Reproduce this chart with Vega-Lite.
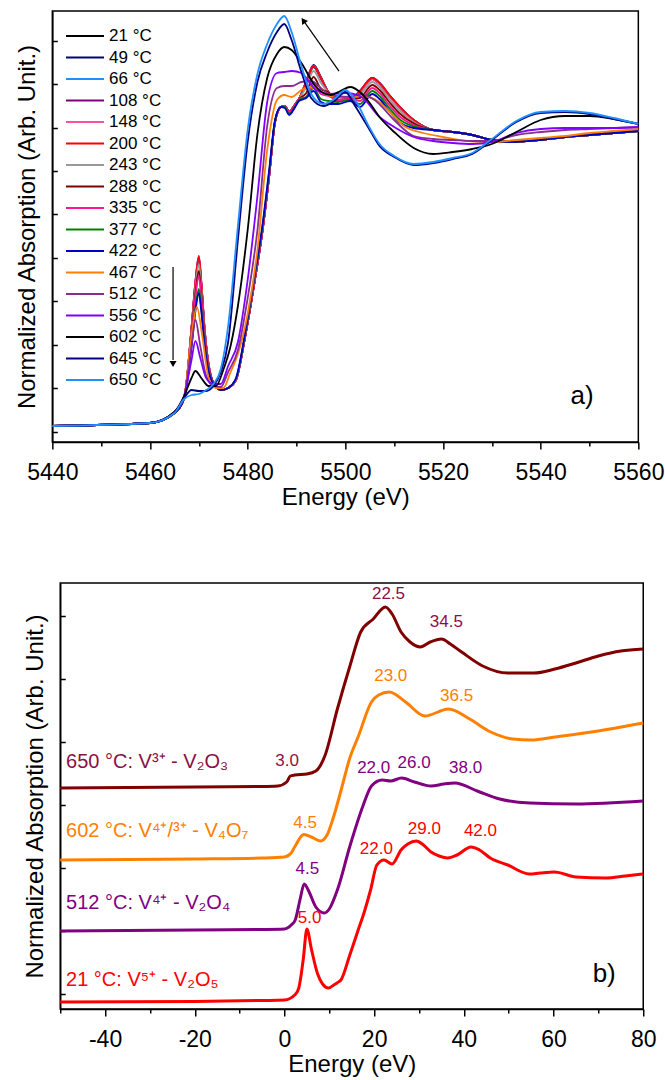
{
"$schema": "https://vega.github.io/schema/vega-lite/v6.json",
"padding": {"left": 14, "top": 10, "right": 5, "bottom": 5},
"spacing": 72,
"center": true,
"bounds": "full",
"config": {
  "font": "Liberation Sans",
  "view": {"stroke": "#000", "strokeWidth": 1.5},
  "axis": {"domainColor": "#000", "domainWidth": 1.5, "tickColor": "#000", "tickWidth": 1.5, "labelColor": "#000", "titleColor": "#000", "labelFontSize": 23, "titleFontSize": 24, "titleFontWeight": "normal", "labelFont": "Liberation Sans", "titleFont": "Liberation Sans", "grid": false},
  "text": {"font": "Liberation Sans"}
},
"datasets": {
"a": [
{"T":"21 °C","E":5440,"A":0},{"T":"21 °C","E":5460,"A":0.015},{"T":"21 °C","E":5465,"A":0.065},{"T":"21 °C","E":5467,"A":0.14},{"T":"21 °C","E":5468.5,"A":0.48},{"T":"21 °C","E":5469.3,"A":0.704},{"T":"21 °C","E":5470,"A":0.825},{"T":"21 °C","E":5470.5,"A":0.704},{"T":"21 °C","E":5471.2,"A":0.471},{"T":"21 °C","E":5472.2,"A":0.277},{"T":"21 °C","E":5473.5,"A":0.195},{"T":"21 °C","E":5474.6,"A":0.18},{"T":"21 °C","E":5476,"A":0.19},{"T":"21 °C","E":5477.6,"A":0.23},{"T":"21 °C","E":5479.5,"A":0.45},{"T":"21 °C","E":5481.4,"A":0.72},{"T":"21 °C","E":5483,"A":0.97},{"T":"21 °C","E":5484.4,"A":1.25},{"T":"21 °C","E":5485.6,"A":1.52},{"T":"21 °C","E":5486.8,"A":1.595},{"T":"21 °C","E":5487.6,"A":1.6},{"T":"21 °C","E":5488.5,"A":1.57},{"T":"21 °C","E":5489.5,"A":1.6},{"T":"21 °C","E":5490.5,"A":1.635},{"T":"21 °C","E":5492,"A":1.715},{"T":"21 °C","E":5493.5,"A":1.795},{"T":"21 °C","E":5495,"A":1.735},{"T":"21 °C","E":5496.5,"A":1.67},{"T":"21 °C","E":5498.5,"A":1.63},{"T":"21 °C","E":5501,"A":1.635},{"T":"21 °C","E":5503,"A":1.67},{"T":"21 °C","E":5505.5,"A":1.735},{"T":"21 °C","E":5507,"A":1.71},{"T":"21 °C","E":5509,"A":1.65},{"T":"21 °C","E":5511,"A":1.595},{"T":"21 °C","E":5514,"A":1.528},{"T":"21 °C","E":5518,"A":1.48},{"T":"21 °C","E":5522,"A":1.47},{"T":"21 °C","E":5526,"A":1.455},{"T":"21 °C","E":5530,"A":1.43},{"T":"21 °C","E":5534,"A":1.42},{"T":"21 °C","E":5540,"A":1.43},{"T":"21 °C","E":5545,"A":1.445},{"T":"21 °C","E":5550,"A":1.455},{"T":"21 °C","E":5555,"A":1.465},{"T":"21 °C","E":5560,"A":1.475},
{"T":"49 °C","E":5440,"A":0},{"T":"49 °C","E":5460,"A":0.015},{"T":"49 °C","E":5465,"A":0.065},{"T":"49 °C","E":5467,"A":0.14},{"T":"49 °C","E":5468.5,"A":0.485},{"T":"49 °C","E":5469.3,"A":0.712},{"T":"49 °C","E":5470,"A":0.835},{"T":"49 °C","E":5470.5,"A":0.712},{"T":"49 °C","E":5471.2,"A":0.476},{"T":"49 °C","E":5472.2,"A":0.279},{"T":"49 °C","E":5473.5,"A":0.195},{"T":"49 °C","E":5474.6,"A":0.18},{"T":"49 °C","E":5476,"A":0.19},{"T":"49 °C","E":5477.6,"A":0.23},{"T":"49 °C","E":5479.5,"A":0.45},{"T":"49 °C","E":5481.4,"A":0.72},{"T":"49 °C","E":5483,"A":0.97},{"T":"49 °C","E":5484.4,"A":1.25},{"T":"49 °C","E":5485.6,"A":1.52},{"T":"49 °C","E":5486.8,"A":1.595},{"T":"49 °C","E":5487.6,"A":1.6},{"T":"49 °C","E":5488.5,"A":1.57},{"T":"49 °C","E":5489.5,"A":1.6},{"T":"49 °C","E":5490.5,"A":1.635},{"T":"49 °C","E":5492,"A":1.725},{"T":"49 °C","E":5493.5,"A":1.805},{"T":"49 °C","E":5495,"A":1.745},{"T":"49 °C","E":5496.5,"A":1.67},{"T":"49 °C","E":5498.5,"A":1.63},{"T":"49 °C","E":5501,"A":1.635},{"T":"49 °C","E":5503,"A":1.675},{"T":"49 °C","E":5505.5,"A":1.74},{"T":"49 °C","E":5507,"A":1.715},{"T":"49 °C","E":5509,"A":1.655},{"T":"49 °C","E":5511,"A":1.6},{"T":"49 °C","E":5514,"A":1.53},{"T":"49 °C","E":5518,"A":1.48},{"T":"49 °C","E":5522,"A":1.47},{"T":"49 °C","E":5526,"A":1.455},{"T":"49 °C","E":5530,"A":1.43},{"T":"49 °C","E":5534,"A":1.42},{"T":"49 °C","E":5540,"A":1.43},{"T":"49 °C","E":5545,"A":1.445},{"T":"49 °C","E":5550,"A":1.455},{"T":"49 °C","E":5555,"A":1.465},{"T":"49 °C","E":5560,"A":1.475},
{"T":"66 °C","E":5440,"A":0},{"T":"66 °C","E":5460,"A":0.015},{"T":"66 °C","E":5465,"A":0.065},{"T":"66 °C","E":5467,"A":0.14},{"T":"66 °C","E":5468.5,"A":0.487},{"T":"66 °C","E":5469.3,"A":0.716},{"T":"66 °C","E":5470,"A":0.84},{"T":"66 °C","E":5470.5,"A":0.716},{"T":"66 °C","E":5471.2,"A":0.478},{"T":"66 °C","E":5472.2,"A":0.279},{"T":"66 °C","E":5473.5,"A":0.195},{"T":"66 °C","E":5474.6,"A":0.18},{"T":"66 °C","E":5476,"A":0.19},{"T":"66 °C","E":5477.6,"A":0.23},{"T":"66 °C","E":5479.5,"A":0.45},{"T":"66 °C","E":5481.4,"A":0.72},{"T":"66 °C","E":5483,"A":0.97},{"T":"66 °C","E":5484.4,"A":1.25},{"T":"66 °C","E":5485.6,"A":1.52},{"T":"66 °C","E":5486.8,"A":1.595},{"T":"66 °C","E":5487.6,"A":1.6},{"T":"66 °C","E":5488.5,"A":1.57},{"T":"66 °C","E":5489.5,"A":1.6},{"T":"66 °C","E":5490.5,"A":1.635},{"T":"66 °C","E":5492,"A":1.72},{"T":"66 °C","E":5493.5,"A":1.8},{"T":"66 °C","E":5495,"A":1.74},{"T":"66 °C","E":5496.5,"A":1.67},{"T":"66 °C","E":5498.5,"A":1.63},{"T":"66 °C","E":5501,"A":1.635},{"T":"66 °C","E":5503,"A":1.675},{"T":"66 °C","E":5505.5,"A":1.74},{"T":"66 °C","E":5507,"A":1.715},{"T":"66 °C","E":5509,"A":1.655},{"T":"66 °C","E":5511,"A":1.6},{"T":"66 °C","E":5514,"A":1.53},{"T":"66 °C","E":5518,"A":1.48},{"T":"66 °C","E":5522,"A":1.47},{"T":"66 °C","E":5526,"A":1.455},{"T":"66 °C","E":5530,"A":1.43},{"T":"66 °C","E":5534,"A":1.42},{"T":"66 °C","E":5540,"A":1.43},{"T":"66 °C","E":5545,"A":1.445},{"T":"66 °C","E":5550,"A":1.455},{"T":"66 °C","E":5555,"A":1.465},{"T":"66 °C","E":5560,"A":1.475},
{"T":"108 °C","E":5440,"A":0},{"T":"108 °C","E":5460,"A":0.015},{"T":"108 °C","E":5465,"A":0.065},{"T":"108 °C","E":5467,"A":0.14},{"T":"108 °C","E":5468.5,"A":0.493},{"T":"108 °C","E":5469.3,"A":0.724},{"T":"108 °C","E":5470,"A":0.85},{"T":"108 °C","E":5470.5,"A":0.724},{"T":"108 °C","E":5471.2,"A":0.482},{"T":"108 °C","E":5472.2,"A":0.281},{"T":"108 °C","E":5473.5,"A":0.195},{"T":"108 °C","E":5474.6,"A":0.18},{"T":"108 °C","E":5476,"A":0.19},{"T":"108 °C","E":5477.6,"A":0.23},{"T":"108 °C","E":5479.5,"A":0.45},{"T":"108 °C","E":5481.4,"A":0.72},{"T":"108 °C","E":5483,"A":0.97},{"T":"108 °C","E":5484.4,"A":1.25},{"T":"108 °C","E":5485.6,"A":1.52},{"T":"108 °C","E":5486.8,"A":1.595},{"T":"108 °C","E":5487.6,"A":1.6},{"T":"108 °C","E":5488.5,"A":1.57},{"T":"108 °C","E":5489.5,"A":1.6},{"T":"108 °C","E":5490.5,"A":1.635},{"T":"108 °C","E":5492,"A":1.72},{"T":"108 °C","E":5493.5,"A":1.8},{"T":"108 °C","E":5495,"A":1.74},{"T":"108 °C","E":5496.5,"A":1.67},{"T":"108 °C","E":5498.5,"A":1.63},{"T":"108 °C","E":5501,"A":1.635},{"T":"108 °C","E":5503,"A":1.675},{"T":"108 °C","E":5505.5,"A":1.74},{"T":"108 °C","E":5507,"A":1.715},{"T":"108 °C","E":5509,"A":1.655},{"T":"108 °C","E":5511,"A":1.6},{"T":"108 °C","E":5514,"A":1.53},{"T":"108 °C","E":5518,"A":1.48},{"T":"108 °C","E":5522,"A":1.47},{"T":"108 °C","E":5526,"A":1.455},{"T":"108 °C","E":5530,"A":1.43},{"T":"108 °C","E":5534,"A":1.42},{"T":"108 °C","E":5540,"A":1.43},{"T":"108 °C","E":5545,"A":1.445},{"T":"108 °C","E":5550,"A":1.455},{"T":"108 °C","E":5555,"A":1.465},{"T":"108 °C","E":5560,"A":1.475},
{"T":"148 °C","E":5440,"A":0},{"T":"148 °C","E":5460,"A":0.015},{"T":"148 °C","E":5465,"A":0.065},{"T":"148 °C","E":5467,"A":0.14},{"T":"148 °C","E":5468.5,"A":0.49},{"T":"148 °C","E":5469.3,"A":0.72},{"T":"148 °C","E":5470,"A":0.845},{"T":"148 °C","E":5470.5,"A":0.72},{"T":"148 °C","E":5471.2,"A":0.48},{"T":"148 °C","E":5472.2,"A":0.28},{"T":"148 °C","E":5473.5,"A":0.195},{"T":"148 °C","E":5474.6,"A":0.18},{"T":"148 °C","E":5476,"A":0.19},{"T":"148 °C","E":5477.6,"A":0.23},{"T":"148 °C","E":5479.5,"A":0.45},{"T":"148 °C","E":5481.4,"A":0.72},{"T":"148 °C","E":5483,"A":0.97},{"T":"148 °C","E":5484.4,"A":1.25},{"T":"148 °C","E":5485.6,"A":1.52},{"T":"148 °C","E":5486.8,"A":1.595},{"T":"148 °C","E":5487.6,"A":1.6},{"T":"148 °C","E":5488.5,"A":1.57},{"T":"148 °C","E":5489.5,"A":1.6},{"T":"148 °C","E":5490.5,"A":1.635},{"T":"148 °C","E":5492,"A":1.72},{"T":"148 °C","E":5493.5,"A":1.8},{"T":"148 °C","E":5495,"A":1.74},{"T":"148 °C","E":5496.5,"A":1.67},{"T":"148 °C","E":5498.5,"A":1.63},{"T":"148 °C","E":5501,"A":1.635},{"T":"148 °C","E":5503,"A":1.67},{"T":"148 °C","E":5505.5,"A":1.735},{"T":"148 °C","E":5507,"A":1.71},{"T":"148 °C","E":5509,"A":1.65},{"T":"148 °C","E":5511,"A":1.595},{"T":"148 °C","E":5514,"A":1.528},{"T":"148 °C","E":5518,"A":1.48},{"T":"148 °C","E":5522,"A":1.47},{"T":"148 °C","E":5526,"A":1.455},{"T":"148 °C","E":5530,"A":1.43},{"T":"148 °C","E":5534,"A":1.42},{"T":"148 °C","E":5540,"A":1.43},{"T":"148 °C","E":5545,"A":1.445},{"T":"148 °C","E":5550,"A":1.455},{"T":"148 °C","E":5555,"A":1.465},{"T":"148 °C","E":5560,"A":1.475},
{"T":"200 °C","E":5440,"A":0},{"T":"200 °C","E":5460,"A":0.015},{"T":"200 °C","E":5465,"A":0.065},{"T":"200 °C","E":5467,"A":0.14},{"T":"200 °C","E":5468.5,"A":0.49},{"T":"200 °C","E":5469.3,"A":0.72},{"T":"200 °C","E":5470,"A":0.845},{"T":"200 °C","E":5470.5,"A":0.72},{"T":"200 °C","E":5471.2,"A":0.48},{"T":"200 °C","E":5472.2,"A":0.28},{"T":"200 °C","E":5473.5,"A":0.195},{"T":"200 °C","E":5474.6,"A":0.18},{"T":"200 °C","E":5476,"A":0.19},{"T":"200 °C","E":5477.6,"A":0.23},{"T":"200 °C","E":5479.5,"A":0.45},{"T":"200 °C","E":5481.4,"A":0.72},{"T":"200 °C","E":5483,"A":0.97},{"T":"200 °C","E":5484.4,"A":1.25},{"T":"200 °C","E":5485.6,"A":1.52},{"T":"200 °C","E":5486.8,"A":1.595},{"T":"200 °C","E":5487.6,"A":1.6},{"T":"200 °C","E":5488.5,"A":1.57},{"T":"200 °C","E":5489.5,"A":1.6},{"T":"200 °C","E":5490.5,"A":1.635},{"T":"200 °C","E":5492,"A":1.72},{"T":"200 °C","E":5493.5,"A":1.8},{"T":"200 °C","E":5495,"A":1.74},{"T":"200 °C","E":5496.5,"A":1.67},{"T":"200 °C","E":5498.5,"A":1.63},{"T":"200 °C","E":5501,"A":1.635},{"T":"200 °C","E":5503,"A":1.675},{"T":"200 °C","E":5505.5,"A":1.74},{"T":"200 °C","E":5507,"A":1.715},{"T":"200 °C","E":5509,"A":1.655},{"T":"200 °C","E":5511,"A":1.6},{"T":"200 °C","E":5514,"A":1.53},{"T":"200 °C","E":5518,"A":1.48},{"T":"200 °C","E":5522,"A":1.47},{"T":"200 °C","E":5526,"A":1.455},{"T":"200 °C","E":5530,"A":1.43},{"T":"200 °C","E":5534,"A":1.42},{"T":"200 °C","E":5540,"A":1.43},{"T":"200 °C","E":5545,"A":1.445},{"T":"200 °C","E":5550,"A":1.455},{"T":"200 °C","E":5555,"A":1.465},{"T":"200 °C","E":5560,"A":1.475},
{"T":"243 °C","E":5440,"A":0},{"T":"243 °C","E":5460,"A":0.015},{"T":"243 °C","E":5465,"A":0.065},{"T":"243 °C","E":5467,"A":0.14},{"T":"243 °C","E":5468.5,"A":0.471},{"T":"243 °C","E":5469.3,"A":0.691},{"T":"243 °C","E":5470,"A":0.81},{"T":"243 °C","E":5470.5,"A":0.691},{"T":"243 °C","E":5471.2,"A":0.464},{"T":"243 °C","E":5472.2,"A":0.275},{"T":"243 °C","E":5473.5,"A":0.195},{"T":"243 °C","E":5474.6,"A":0.18},{"T":"243 °C","E":5476,"A":0.19},{"T":"243 °C","E":5477.6,"A":0.23},{"T":"243 °C","E":5479.5,"A":0.45},{"T":"243 °C","E":5481.4,"A":0.72},{"T":"243 °C","E":5483,"A":0.97},{"T":"243 °C","E":5484.4,"A":1.25},{"T":"243 °C","E":5485.6,"A":1.52},{"T":"243 °C","E":5486.8,"A":1.595},{"T":"243 °C","E":5487.6,"A":1.6},{"T":"243 °C","E":5488.5,"A":1.57},{"T":"243 °C","E":5489.5,"A":1.6},{"T":"243 °C","E":5490.5,"A":1.635},{"T":"243 °C","E":5492,"A":1.695},{"T":"243 °C","E":5493.5,"A":1.775},{"T":"243 °C","E":5495,"A":1.715},{"T":"243 °C","E":5496.5,"A":1.67},{"T":"243 °C","E":5498.5,"A":1.63},{"T":"243 °C","E":5501,"A":1.635},{"T":"243 °C","E":5503,"A":1.655},{"T":"243 °C","E":5505.5,"A":1.72},{"T":"243 °C","E":5507,"A":1.695},{"T":"243 °C","E":5509,"A":1.635},{"T":"243 °C","E":5511,"A":1.58},{"T":"243 °C","E":5514,"A":1.52},{"T":"243 °C","E":5518,"A":1.48},{"T":"243 °C","E":5522,"A":1.47},{"T":"243 °C","E":5526,"A":1.455},{"T":"243 °C","E":5530,"A":1.43},{"T":"243 °C","E":5534,"A":1.42},{"T":"243 °C","E":5540,"A":1.43},{"T":"243 °C","E":5545,"A":1.445},{"T":"243 °C","E":5550,"A":1.455},{"T":"243 °C","E":5555,"A":1.465},{"T":"243 °C","E":5560,"A":1.475},
{"T":"288 °C","E":5440,"A":0},{"T":"288 °C","E":5460,"A":0.015},{"T":"288 °C","E":5465,"A":0.065},{"T":"288 °C","E":5467,"A":0.14},{"T":"288 °C","E":5468.5,"A":0.453},{"T":"288 °C","E":5469.3,"A":0.663},{"T":"288 °C","E":5470,"A":0.775},{"T":"288 °C","E":5470.5,"A":0.663},{"T":"288 °C","E":5471.2,"A":0.449},{"T":"288 °C","E":5472.2,"A":0.27},{"T":"288 °C","E":5473.5,"A":0.195},{"T":"288 °C","E":5474.6,"A":0.18},{"T":"288 °C","E":5476,"A":0.19},{"T":"288 °C","E":5477.6,"A":0.23},{"T":"288 °C","E":5479.5,"A":0.45},{"T":"288 °C","E":5481.4,"A":0.72},{"T":"288 °C","E":5483,"A":0.97},{"T":"288 °C","E":5484.4,"A":1.25},{"T":"288 °C","E":5485.6,"A":1.52},{"T":"288 °C","E":5486.8,"A":1.595},{"T":"288 °C","E":5487.6,"A":1.6},{"T":"288 °C","E":5488.5,"A":1.57},{"T":"288 °C","E":5489.5,"A":1.6},{"T":"288 °C","E":5490.5,"A":1.635},{"T":"288 °C","E":5492,"A":1.665},{"T":"288 °C","E":5493.5,"A":1.745},{"T":"288 °C","E":5495,"A":1.685},{"T":"288 °C","E":5496.5,"A":1.67},{"T":"288 °C","E":5498.5,"A":1.63},{"T":"288 °C","E":5501,"A":1.635},{"T":"288 °C","E":5503,"A":1.64},{"T":"288 °C","E":5505.5,"A":1.705},{"T":"288 °C","E":5507,"A":1.68},{"T":"288 °C","E":5509,"A":1.62},{"T":"288 °C","E":5511,"A":1.565},{"T":"288 °C","E":5514,"A":1.513},{"T":"288 °C","E":5518,"A":1.48},{"T":"288 °C","E":5522,"A":1.47},{"T":"288 °C","E":5526,"A":1.455},{"T":"288 °C","E":5530,"A":1.43},{"T":"288 °C","E":5534,"A":1.42},{"T":"288 °C","E":5540,"A":1.43},{"T":"288 °C","E":5545,"A":1.445},{"T":"288 °C","E":5550,"A":1.455},{"T":"288 °C","E":5555,"A":1.465},{"T":"288 °C","E":5560,"A":1.475},
{"T":"335 °C","E":5440,"A":0},{"T":"335 °C","E":5460,"A":0.015},{"T":"335 °C","E":5465,"A":0.065},{"T":"335 °C","E":5467,"A":0.14},{"T":"335 °C","E":5468.5,"A":0.44},{"T":"335 °C","E":5469.3,"A":0.643},{"T":"335 °C","E":5470,"A":0.75},{"T":"335 °C","E":5470.5,"A":0.643},{"T":"335 °C","E":5471.2,"A":0.437},{"T":"335 °C","E":5472.2,"A":0.266},{"T":"335 °C","E":5473.5,"A":0.195},{"T":"335 °C","E":5474.6,"A":0.18},{"T":"335 °C","E":5476,"A":0.19},{"T":"335 °C","E":5477.6,"A":0.23},{"T":"335 °C","E":5479.5,"A":0.45},{"T":"335 °C","E":5481.4,"A":0.72},{"T":"335 °C","E":5483,"A":0.97},{"T":"335 °C","E":5484.4,"A":1.25},{"T":"335 °C","E":5485.6,"A":1.52},{"T":"335 °C","E":5486.8,"A":1.595},{"T":"335 °C","E":5487.6,"A":1.6},{"T":"335 °C","E":5488.5,"A":1.57},{"T":"335 °C","E":5489.5,"A":1.6},{"T":"335 °C","E":5490.5,"A":1.635},{"T":"335 °C","E":5492,"A":1.645},{"T":"335 °C","E":5493.5,"A":1.72},{"T":"335 °C","E":5495,"A":1.66},{"T":"335 °C","E":5496.5,"A":1.65},{"T":"335 °C","E":5498.5,"A":1.63},{"T":"335 °C","E":5501,"A":1.635},{"T":"335 °C","E":5503,"A":1.625},{"T":"335 °C","E":5505.5,"A":1.69},{"T":"335 °C","E":5507,"A":1.665},{"T":"335 °C","E":5509,"A":1.605},{"T":"335 °C","E":5511,"A":1.55},{"T":"335 °C","E":5514,"A":1.505},{"T":"335 °C","E":5518,"A":1.48},{"T":"335 °C","E":5522,"A":1.47},{"T":"335 °C","E":5526,"A":1.455},{"T":"335 °C","E":5530,"A":1.43},{"T":"335 °C","E":5534,"A":1.42},{"T":"335 °C","E":5540,"A":1.43},{"T":"335 °C","E":5545,"A":1.445},{"T":"335 °C","E":5550,"A":1.455},{"T":"335 °C","E":5555,"A":1.465},{"T":"335 °C","E":5560,"A":1.475},
{"T":"377 °C","E":5440,"A":0},{"T":"377 °C","E":5460,"A":0.015},{"T":"377 °C","E":5465,"A":0.065},{"T":"377 °C","E":5467,"A":0.14},{"T":"377 °C","E":5468.5,"A":0.406},{"T":"377 °C","E":5469.3,"A":0.59},{"T":"377 °C","E":5470,"A":0.685},{"T":"377 °C","E":5470.5,"A":0.59},{"T":"377 °C","E":5471.2,"A":0.408},{"T":"377 °C","E":5472.2,"A":0.256},{"T":"377 °C","E":5473.5,"A":0.195},{"T":"377 °C","E":5474.6,"A":0.18},{"T":"377 °C","E":5476,"A":0.19},{"T":"377 °C","E":5477.6,"A":0.235},{"T":"377 °C","E":5479.5,"A":0.46},{"T":"377 °C","E":5481.4,"A":0.74},{"T":"377 °C","E":5483,"A":0.99},{"T":"377 °C","E":5484.4,"A":1.27},{"T":"377 °C","E":5485.6,"A":1.525},{"T":"377 °C","E":5486.8,"A":1.595},{"T":"377 °C","E":5487.6,"A":1.595},{"T":"377 °C","E":5488.5,"A":1.56},{"T":"377 °C","E":5489.5,"A":1.59},{"T":"377 °C","E":5490.5,"A":1.63},{"T":"377 °C","E":5492,"A":1.645},{"T":"377 °C","E":5493.5,"A":1.69},{"T":"377 °C","E":5495,"A":1.635},{"T":"377 °C","E":5496.5,"A":1.625},{"T":"377 °C","E":5498.5,"A":1.62},{"T":"377 °C","E":5501,"A":1.63},{"T":"377 °C","E":5503,"A":1.61},{"T":"377 °C","E":5505.5,"A":1.675},{"T":"377 °C","E":5507,"A":1.65},{"T":"377 °C","E":5509,"A":1.59},{"T":"377 °C","E":5511,"A":1.535},{"T":"377 °C","E":5514,"A":1.498},{"T":"377 °C","E":5518,"A":1.48},{"T":"377 °C","E":5522,"A":1.47},{"T":"377 °C","E":5526,"A":1.455},{"T":"377 °C","E":5530,"A":1.43},{"T":"377 °C","E":5534,"A":1.42},{"T":"377 °C","E":5540,"A":1.43},{"T":"377 °C","E":5545,"A":1.445},{"T":"377 °C","E":5550,"A":1.455},{"T":"377 °C","E":5555,"A":1.465},{"T":"377 °C","E":5560,"A":1.475},
{"T":"422 °C","E":5440,"A":0},{"T":"422 °C","E":5460,"A":0.015},{"T":"422 °C","E":5465,"A":0.065},{"T":"422 °C","E":5467,"A":0.14},{"T":"422 °C","E":5468.5,"A":0.395},{"T":"422 °C","E":5469.3,"A":0.574},{"T":"422 °C","E":5470,"A":0.665},{"T":"422 °C","E":5470.5,"A":0.574},{"T":"422 °C","E":5471.2,"A":0.399},{"T":"422 °C","E":5472.2,"A":0.253},{"T":"422 °C","E":5473.5,"A":0.195},{"T":"422 °C","E":5474.6,"A":0.18},{"T":"422 °C","E":5476,"A":0.19},{"T":"422 °C","E":5477.6,"A":0.24},{"T":"422 °C","E":5479.5,"A":0.47},{"T":"422 °C","E":5481.4,"A":0.75},{"T":"422 °C","E":5483,"A":1.0},{"T":"422 °C","E":5484.4,"A":1.28},{"T":"422 °C","E":5485.6,"A":1.53},{"T":"422 °C","E":5486.8,"A":1.595},{"T":"422 °C","E":5487.6,"A":1.59},{"T":"422 °C","E":5488.5,"A":1.555},{"T":"422 °C","E":5489.5,"A":1.585},{"T":"422 °C","E":5490.5,"A":1.625},{"T":"422 °C","E":5492,"A":1.64},{"T":"422 °C","E":5493.5,"A":1.675},{"T":"422 °C","E":5495,"A":1.62},{"T":"422 °C","E":5496.5,"A":1.61},{"T":"422 °C","E":5498.5,"A":1.61},{"T":"422 °C","E":5501,"A":1.625},{"T":"422 °C","E":5503,"A":1.595},{"T":"422 °C","E":5505.5,"A":1.66},{"T":"422 °C","E":5507,"A":1.635},{"T":"422 °C","E":5509,"A":1.575},{"T":"422 °C","E":5511,"A":1.52},{"T":"422 °C","E":5514,"A":1.49},{"T":"422 °C","E":5518,"A":1.48},{"T":"422 °C","E":5522,"A":1.47},{"T":"422 °C","E":5526,"A":1.455},{"T":"422 °C","E":5530,"A":1.43},{"T":"422 °C","E":5534,"A":1.42},{"T":"422 °C","E":5540,"A":1.43},{"T":"422 °C","E":5545,"A":1.445},{"T":"422 °C","E":5550,"A":1.455},{"T":"422 °C","E":5555,"A":1.465},{"T":"422 °C","E":5560,"A":1.475},
{"T":"467 °C","E":5440,"A":0},{"T":"467 °C","E":5460,"A":0.015},{"T":"467 °C","E":5465,"A":0.07},{"T":"467 °C","E":5467,"A":0.15},{"T":"467 °C","E":5468.5,"A":0.45},{"T":"467 °C","E":5469.6,"A":0.595},{"T":"467 °C","E":5470.7,"A":0.45},{"T":"467 °C","E":5472,"A":0.24},{"T":"467 °C","E":5473.5,"A":0.19},{"T":"467 °C","E":5475,"A":0.19},{"T":"467 °C","E":5476.5,"A":0.27},{"T":"467 °C","E":5478,"A":0.36},{"T":"467 °C","E":5480,"A":0.56},{"T":"467 °C","E":5482,"A":0.88},{"T":"467 °C","E":5484,"A":1.38},{"T":"467 °C","E":5486,"A":1.63},{"T":"467 °C","E":5487.5,"A":1.655},{"T":"467 °C","E":5489,"A":1.645},{"T":"467 °C","E":5491,"A":1.68},{"T":"467 °C","E":5492.5,"A":1.695},{"T":"467 °C","E":5494,"A":1.685},{"T":"467 °C","E":5497,"A":1.65},{"T":"467 °C","E":5500,"A":1.645},{"T":"467 °C","E":5503,"A":1.65},{"T":"467 °C","E":5506,"A":1.635},{"T":"467 °C","E":5508.5,"A":1.585},{"T":"467 °C","E":5512,"A":1.5},{"T":"467 °C","E":5516,"A":1.465},{"T":"467 °C","E":5520,"A":1.445},{"T":"467 °C","E":5525,"A":1.425},{"T":"467 °C","E":5530,"A":1.42},{"T":"467 °C","E":5535,"A":1.43},{"T":"467 °C","E":5540,"A":1.44},{"T":"467 °C","E":5545,"A":1.45},{"T":"467 °C","E":5550,"A":1.465},{"T":"467 °C","E":5555,"A":1.475},{"T":"467 °C","E":5560,"A":1.485},
{"T":"512 °C","E":5440,"A":0},{"T":"512 °C","E":5460,"A":0.015},{"T":"512 °C","E":5465,"A":0.07},{"T":"512 °C","E":5467,"A":0.15},{"T":"512 °C","E":5468.5,"A":0.4},{"T":"512 °C","E":5469.3,"A":0.53},{"T":"512 °C","E":5470.3,"A":0.4},{"T":"512 °C","E":5471.5,"A":0.25},{"T":"512 °C","E":5473,"A":0.2},{"T":"512 °C","E":5474.5,"A":0.195},{"T":"512 °C","E":5476,"A":0.27},{"T":"512 °C","E":5478,"A":0.38},{"T":"512 °C","E":5480,"A":0.64},{"T":"512 °C","E":5482,"A":0.98},{"T":"512 °C","E":5484,"A":1.5},{"T":"512 °C","E":5486,"A":1.69},{"T":"512 °C","E":5487.5,"A":1.7},{"T":"512 °C","E":5489,"A":1.7},{"T":"512 °C","E":5491,"A":1.72},{"T":"512 °C","E":5493,"A":1.725},{"T":"512 °C","E":5494.5,"A":1.7},{"T":"512 °C","E":5496,"A":1.67},{"T":"512 °C","E":5498,"A":1.65},{"T":"512 °C","E":5501,"A":1.645},{"T":"512 °C","E":5503,"A":1.66},{"T":"512 °C","E":5506,"A":1.63},{"T":"512 °C","E":5510,"A":1.53},{"T":"512 °C","E":5514,"A":1.45},{"T":"512 °C","E":5518,"A":1.435},{"T":"512 °C","E":5522,"A":1.43},{"T":"512 °C","E":5526,"A":1.425},{"T":"512 °C","E":5530,"A":1.425},{"T":"512 °C","E":5535,"A":1.455},{"T":"512 °C","E":5540,"A":1.47},{"T":"512 °C","E":5545,"A":1.48},{"T":"512 °C","E":5550,"A":1.485},{"T":"512 °C","E":5555,"A":1.49},{"T":"512 °C","E":5560,"A":1.495},
{"T":"556 °C","E":5440,"A":0},{"T":"556 °C","E":5460,"A":0.015},{"T":"556 °C","E":5465,"A":0.07},{"T":"556 °C","E":5467,"A":0.15},{"T":"556 °C","E":5468.5,"A":0.33},{"T":"556 °C","E":5469.3,"A":0.425},{"T":"556 °C","E":5470.3,"A":0.34},{"T":"556 °C","E":5471.5,"A":0.24},{"T":"556 °C","E":5473,"A":0.21},{"T":"556 °C","E":5474.5,"A":0.21},{"T":"556 °C","E":5476,"A":0.3},{"T":"556 °C","E":5478,"A":0.42},{"T":"556 °C","E":5480,"A":0.73},{"T":"556 °C","E":5482,"A":1.15},{"T":"556 °C","E":5484,"A":1.62},{"T":"556 °C","E":5486,"A":1.765},{"T":"556 °C","E":5487.5,"A":1.77},{"T":"556 °C","E":5489,"A":1.775},{"T":"556 °C","E":5491,"A":1.765},{"T":"556 °C","E":5492.5,"A":1.725},{"T":"556 °C","E":5494,"A":1.68},{"T":"556 °C","E":5497,"A":1.66},{"T":"556 °C","E":5500,"A":1.665},{"T":"556 °C","E":5503,"A":1.65},{"T":"556 °C","E":5507,"A":1.545},{"T":"556 °C","E":5510,"A":1.495},{"T":"556 °C","E":5514,"A":1.445},{"T":"556 °C","E":5518,"A":1.425},{"T":"556 °C","E":5522,"A":1.415},{"T":"556 °C","E":5526,"A":1.41},{"T":"556 °C","E":5530,"A":1.42},{"T":"556 °C","E":5535,"A":1.465},{"T":"556 °C","E":5540,"A":1.485},{"T":"556 °C","E":5545,"A":1.49},{"T":"556 °C","E":5550,"A":1.49},{"T":"556 °C","E":5555,"A":1.49},{"T":"556 °C","E":5560,"A":1.495},
{"T":"602 °C","E":5440,"A":0},{"T":"602 °C","E":5460,"A":0.015},{"T":"602 °C","E":5465,"A":0.07},{"T":"602 °C","E":5467,"A":0.15},{"T":"602 °C","E":5468.5,"A":0.24},{"T":"602 °C","E":5469.3,"A":0.275},{"T":"602 °C","E":5470.5,"A":0.24},{"T":"602 °C","E":5472,"A":0.2},{"T":"602 °C","E":5473.5,"A":0.2},{"T":"602 °C","E":5475,"A":0.28},{"T":"602 °C","E":5476.5,"A":0.4},{"T":"602 °C","E":5478,"A":0.6},{"T":"602 °C","E":5480,"A":0.98},{"T":"602 °C","E":5482,"A":1.46},{"T":"602 °C","E":5484,"A":1.74},{"T":"602 °C","E":5486,"A":1.86},{"T":"602 °C","E":5487.5,"A":1.895},{"T":"602 °C","E":5489,"A":1.88},{"T":"602 °C","E":5491,"A":1.815},{"T":"602 °C","E":5494,"A":1.695},{"T":"602 °C","E":5497,"A":1.655},{"T":"602 °C","E":5499,"A":1.675},{"T":"602 °C","E":5501,"A":1.695},{"T":"602 °C","E":5503,"A":1.67},{"T":"602 °C","E":5505,"A":1.615},{"T":"602 °C","E":5507,"A":1.545},{"T":"602 °C","E":5510,"A":1.47},{"T":"602 °C","E":5514,"A":1.39},{"T":"602 °C","E":5518,"A":1.36},{"T":"602 °C","E":5522,"A":1.37},{"T":"602 °C","E":5526,"A":1.385},{"T":"602 °C","E":5530,"A":1.41},{"T":"602 °C","E":5535,"A":1.47},{"T":"602 °C","E":5540,"A":1.53},{"T":"602 °C","E":5545,"A":1.55},{"T":"602 °C","E":5550,"A":1.55},{"T":"602 °C","E":5555,"A":1.535},{"T":"602 °C","E":5560,"A":1.51},
{"T":"645 °C","E":5440,"A":0},{"T":"645 °C","E":5460,"A":0.015},{"T":"645 °C","E":5465,"A":0.065},{"T":"645 °C","E":5467,"A":0.14},{"T":"645 °C","E":5468.5,"A":0.18},{"T":"645 °C","E":5470,"A":0.175},{"T":"645 °C","E":5471.5,"A":0.175},{"T":"645 °C","E":5473,"A":0.2},{"T":"645 °C","E":5474.5,"A":0.27},{"T":"645 °C","E":5476,"A":0.42},{"T":"645 °C","E":5478,"A":0.93},{"T":"645 °C","E":5480,"A":1.42},{"T":"645 °C","E":5482,"A":1.72},{"T":"645 °C","E":5484,"A":1.87},{"T":"645 °C","E":5486,"A":1.97},{"T":"645 °C","E":5487.5,"A":2.01},{"T":"645 °C","E":5489,"A":1.93},{"T":"645 °C","E":5491,"A":1.77},{"T":"645 °C","E":5493,"A":1.64},{"T":"645 °C","E":5495.5,"A":1.6},{"T":"645 °C","E":5498,"A":1.63},{"T":"645 °C","E":5500,"A":1.67},{"T":"645 °C","E":5502,"A":1.6},{"T":"645 °C","E":5505,"A":1.48},{"T":"645 °C","E":5507,"A":1.4},{"T":"645 °C","E":5510,"A":1.345},{"T":"645 °C","E":5514,"A":1.305},{"T":"645 °C","E":5518,"A":1.315},{"T":"645 °C","E":5522,"A":1.335},{"T":"645 °C","E":5526,"A":1.36},{"T":"645 °C","E":5530,"A":1.43},{"T":"645 °C","E":5535,"A":1.52},{"T":"645 °C","E":5540,"A":1.565},{"T":"645 °C","E":5545,"A":1.57},{"T":"645 °C","E":5550,"A":1.56},{"T":"645 °C","E":5555,"A":1.535},{"T":"645 °C","E":5560,"A":1.51},
{"T":"650 °C","E":5440,"A":0},{"T":"650 °C","E":5460,"A":0.015},{"T":"650 °C","E":5465,"A":0.065},{"T":"650 °C","E":5467,"A":0.135},{"T":"650 °C","E":5468.5,"A":0.155},{"T":"650 °C","E":5470,"A":0.16},{"T":"650 °C","E":5471.5,"A":0.18},{"T":"650 °C","E":5473,"A":0.21},{"T":"650 °C","E":5474.5,"A":0.285},{"T":"650 °C","E":5476,"A":0.5},{"T":"650 °C","E":5478,"A":1.0},{"T":"650 °C","E":5480,"A":1.48},{"T":"650 °C","E":5482,"A":1.76},{"T":"650 °C","E":5484,"A":1.91},{"T":"650 °C","E":5486,"A":2.01},{"T":"650 °C","E":5487.5,"A":2.05},{"T":"650 °C","E":5489,"A":1.97},{"T":"650 °C","E":5491,"A":1.8},{"T":"650 °C","E":5493,"A":1.66},{"T":"650 °C","E":5495.5,"A":1.61},{"T":"650 °C","E":5498,"A":1.64},{"T":"650 °C","E":5500,"A":1.68},{"T":"650 °C","E":5502,"A":1.63},{"T":"650 °C","E":5505,"A":1.49},{"T":"650 °C","E":5507,"A":1.41},{"T":"650 °C","E":5510,"A":1.35},{"T":"650 °C","E":5514,"A":1.31},{"T":"650 °C","E":5518,"A":1.32},{"T":"650 °C","E":5522,"A":1.34},{"T":"650 °C","E":5526,"A":1.365},{"T":"650 °C","E":5530,"A":1.435},{"T":"650 °C","E":5535,"A":1.525},{"T":"650 °C","E":5540,"A":1.57},{"T":"650 °C","E":5545,"A":1.575},{"T":"650 °C","E":5550,"A":1.565},{"T":"650 °C","E":5555,"A":1.54},{"T":"650 °C","E":5560,"A":1.51}
],
"b": [
{"S":"21 °C","e":-50,"v":-0.02},{"S":"21 °C","e":-20,"v":-0.015},{"S":"21 °C","e":-5,"v":-0.005},{"S":"21 °C","e":0,"v":0},{"S":"21 °C","e":2.4,"v":0.055},{"S":"21 °C","e":3.2,"v":0.12},{"S":"21 °C","e":4.2,"v":0.41},{"S":"21 °C","e":5,"v":0.71},{"S":"21 °C","e":6,"v":0.51},{"S":"21 °C","e":7.4,"v":0.26},{"S":"21 °C","e":8.5,"v":0.16},{"S":"21 °C","e":9.8,"v":0.12},{"S":"21 °C","e":11,"v":0.15},{"S":"21 °C","e":11.8,"v":0.173},{"S":"21 °C","e":12.6,"v":0.2},{"S":"21 °C","e":14.5,"v":0.44},{"S":"21 °C","e":16.4,"v":0.695},{"S":"21 °C","e":17.8,"v":0.88},{"S":"21 °C","e":19.2,"v":1.1},{"S":"21 °C","e":20.6,"v":1.35},{"S":"21 °C","e":22.2,"v":1.4},{"S":"21 °C","e":24,"v":1.36},{"S":"21 °C","e":26,"v":1.5},{"S":"21 °C","e":27.5,"v":1.56},{"S":"21 °C","e":29.4,"v":1.59},{"S":"21 °C","e":31,"v":1.55},{"S":"21 °C","e":32.7,"v":1.48},{"S":"21 °C","e":34.5,"v":1.44},{"S":"21 °C","e":36.4,"v":1.42},{"S":"21 °C","e":38.5,"v":1.45},{"S":"21 °C","e":41.6,"v":1.53},{"S":"21 °C","e":43.5,"v":1.5},{"S":"21 °C","e":45.9,"v":1.42},{"S":"21 °C","e":49.8,"v":1.35},{"S":"21 °C","e":54.6,"v":1.26},{"S":"21 °C","e":57,"v":1.27},{"S":"21 °C","e":60.2,"v":1.28},{"S":"21 °C","e":65,"v":1.23},{"S":"21 °C","e":71.7,"v":1.22},{"S":"21 °C","e":76,"v":1.24},{"S":"21 °C","e":80,"v":1.26},
{"S":"512 °C","e":-50,"v":0.69},{"S":"512 °C","e":-20,"v":0.7},{"S":"512 °C","e":-5,"v":0.705},{"S":"512 °C","e":0,"v":0.71},{"S":"512 °C","e":1.5,"v":0.75},{"S":"512 °C","e":2.4,"v":0.8},{"S":"512 °C","e":3.5,"v":1.01},{"S":"512 °C","e":4.4,"v":1.16},{"S":"512 °C","e":5.5,"v":1.08},{"S":"512 °C","e":7,"v":0.93},{"S":"512 °C","e":8.9,"v":0.87},{"S":"512 °C","e":10,"v":0.91},{"S":"512 °C","e":11.8,"v":1.1},{"S":"512 °C","e":14.6,"v":1.54},{"S":"512 °C","e":17.5,"v":1.94},{"S":"512 °C","e":19.4,"v":2.14},{"S":"512 °C","e":21.8,"v":2.2},{"S":"512 °C","e":23.7,"v":2.19},{"S":"512 °C","e":26.1,"v":2.22},{"S":"512 °C","e":29,"v":2.18},{"S":"512 °C","e":32.7,"v":2.14},{"S":"512 °C","e":35.5,"v":2.16},{"S":"512 °C","e":38,"v":2.17},{"S":"512 °C","e":43,"v":2.09},{"S":"512 °C","e":48,"v":2.01},{"S":"512 °C","e":54.7,"v":1.97},{"S":"512 °C","e":65,"v":1.96},{"S":"512 °C","e":80,"v":1.99},
{"S":"602 °C","e":-50,"v":1.4},{"S":"602 °C","e":-20,"v":1.41},{"S":"602 °C","e":-5,"v":1.42},{"S":"602 °C","e":0,"v":1.43},{"S":"602 °C","e":1.5,"v":1.47},{"S":"602 °C","e":2.4,"v":1.54},{"S":"602 °C","e":4.3,"v":1.655},{"S":"602 °C","e":6,"v":1.63},{"S":"602 °C","e":8,"v":1.59},{"S":"602 °C","e":9.5,"v":1.65},{"S":"602 °C","e":10.8,"v":1.81},{"S":"602 °C","e":12.7,"v":2.11},{"S":"602 °C","e":14.5,"v":2.41},{"S":"602 °C","e":16.5,"v":2.64},{"S":"602 °C","e":19.4,"v":2.98},{"S":"602 °C","e":21,"v":3.05},{"S":"602 °C","e":23.4,"v":3.08},{"S":"602 °C","e":27,"v":2.98},{"S":"602 °C","e":31.3,"v":2.84},{"S":"602 °C","e":36.6,"v":2.91},{"S":"602 °C","e":41.3,"v":2.81},{"S":"602 °C","e":46,"v":2.68},{"S":"602 °C","e":50.9,"v":2.61},{"S":"602 °C","e":55,"v":2.6},{"S":"602 °C","e":60.3,"v":2.63},{"S":"602 °C","e":70,"v":2.69},{"S":"602 °C","e":80,"v":2.77},
{"S":"650 °C","e":-50,"v":2.12},{"S":"650 °C","e":-20,"v":2.13},{"S":"650 °C","e":-5,"v":2.135},{"S":"650 °C","e":-1.5,"v":2.14},{"S":"650 °C","e":0.5,"v":2.18},{"S":"650 °C","e":1.3,"v":2.24},{"S":"650 °C","e":2.3,"v":2.25},{"S":"650 °C","e":5,"v":2.26},{"S":"650 °C","e":7,"v":2.29},{"S":"650 °C","e":9,"v":2.44},{"S":"650 °C","e":11.8,"v":2.91},{"S":"650 °C","e":14.6,"v":3.34},{"S":"650 °C","e":17,"v":3.68},{"S":"650 °C","e":19.8,"v":3.81},{"S":"650 °C","e":22.5,"v":3.93},{"S":"650 °C","e":24,"v":3.86},{"S":"650 °C","e":26,"v":3.68},{"S":"650 °C","e":28,"v":3.58},{"S":"650 °C","e":30.3,"v":3.53},{"S":"650 °C","e":32.5,"v":3.58},{"S":"650 °C","e":35,"v":3.61},{"S":"650 °C","e":37,"v":3.56},{"S":"650 °C","e":39.5,"v":3.48},{"S":"650 °C","e":44.2,"v":3.34},{"S":"650 °C","e":49.8,"v":3.27},{"S":"650 °C","e":55.6,"v":3.27},{"S":"650 °C","e":60.3,"v":3.31},{"S":"650 °C","e":65,"v":3.37},{"S":"650 °C","e":70,"v":3.44},{"S":"650 °C","e":75,"v":3.49},{"S":"650 °C","e":80,"v":3.51}
],
"bnum": [
{"t":"22.5","e":23.2,"v":4.06,"c":"650"},{"t":"34.5","e":36.1,"v":3.78,"c":"650"},{"t":"3.0","e":0.6,"v":2.39,"c":"650"},
{"t":"23.0","e":23.7,"v":3.24,"c":"602"},{"t":"36.5","e":38.4,"v":3.04,"c":"602"},{"t":"4.5","e":4.6,"v":1.77,"c":"602"},
{"t":"22.0","e":19.9,"v":2.32,"c":"512"},{"t":"26.0","e":28.9,"v":2.37,"c":"512"},{"t":"38.0","e":40.4,"v":2.32,"c":"512"},{"t":"4.5","e":5.1,"v":1.31,"c":"512"},
{"t":"22.0","e":20.5,"v":1.51,"c":"21"},{"t":"29.0","e":31.2,"v":1.71,"c":"21"},{"t":"42.0","e":43.7,"v":1.69,"c":"21"},{"t":"5.0","e":5.6,"v":0.82,"c":"21"}
],
"blab": [
{"t":"650 °C: V³⁺ - V₂O₃","e":-48.7,"v":2.38,"c":"650"},
{"t":"602 °C: V⁴⁺/³⁺ - V₄O₇","e":-48.7,"v":1.69,"c":"602"},
{"t":"512 °C: V⁴⁺ - V₂O₄","e":-48.7,"v":0.97,"c":"512"},
{"t":"21 °C: V⁵⁺ - V₂O₅","e":-48.7,"v":0.2,"c":"21"}
]
},
"vconcat": [
{
"width": 586, "height": 431,
"layer": [
{
"data": {"name": "a"},
"mark": {"type": "line", "strokeWidth": 1.8, "interpolate": "monotone"},
"encoding": {
  "x": {"field": "E", "type": "quantitative", "scale": {"domain": [5440, 5560], "nice": false, "zero": false},
    "axis": {"title": "Energy (eV)", "values": [5440,5450,5460,5470,5480,5490,5500,5510,5520,5530,5540,5550,5560], "labelExpr": "datum.value % 20 === 0 ? '' + datum.value : ''", "tickSize": {"condition": {"test": "datum.value % 20 === 0", "value": 7}, "value": 4}, "labelFlush": false, "labelOverlap": false, "labelPadding": 12, "titlePadding": 1}},
  "y": {"field": "A", "type": "quantitative", "scale": {"domain": [-0.08, 2.075], "nice": false, "zero": false},
    "axis": {"title": "Normalized Absorption (Arb. Unit.)", "labels": false, "values": [2.034,1.926,1.817,1.709,1.6,1.492,1.383,1.275,1.166,1.058,0.949,0.841,0.732,0.624,0.515,0.407,0.298,0.19,0.081,-0.028], "tickSize": -5, "titlePadding": 12}},
  "color": {"field": "T", "type": "nominal",
    "scale": {"domain": ["21 °C","49 °C","66 °C","108 °C","148 °C","200 °C","243 °C","288 °C","335 °C","377 °C","422 °C","467 °C","512 °C","556 °C","602 °C","645 °C","650 °C"],
              "range": ["#000000","#000080","#1E90FF","#800080","#FF4FA0","#FF0000","#999999","#800000","#FF1493","#008000","#0000CC","#FF8000","#8B2D8B","#8000FF","#000000","#000080","#1E90FF"]},
    "legend": {"orient": "none", "legendX": 22.5, "legendY": 14.5, "title": null, "symbolType": "M-2,0H2", "symbolSize": 361, "symbolStrokeWidth": 2, "labelFontSize": 17, "labelFont": "Liberation Sans", "labelColor": "#000", "labelOffset": 13.5, "rowPadding": 2.5, "padding": 0, "labelLimit": 200}}
}
},
{
"data": {"values": [{"x": 5498.7, "y": 1.774, "x2": 5491.4, "y2": 2.028}, {"x": 5464.72, "y": 0.795, "x2": 5464.72, "y2": 0.33}]},
"mark": {"type": "rule", "color": "#000", "strokeWidth": 1.2},
"encoding": {"x": {"field": "x", "type": "quantitative"}, "y": {"field": "y", "type": "quantitative"}, "x2": {"field": "x2"}, "y2": {"field": "y2"}}
},
{
"data": {"values": [{"x": 5491.4, "y": 2.028}]},
"mark": {"type": "point", "shape": "triangle-up", "filled": true, "color": "#000", "size": 50, "angle": -35, "opacity": 1},
"encoding": {"x": {"field": "x", "type": "quantitative"}, "y": {"field": "y", "type": "quantitative"}}
},
{
"data": {"values": [{"x": 5464.72, "y": 0.31}]},
"mark": {"type": "point", "shape": "triangle-down", "filled": true, "color": "#000", "size": 50, "opacity": 1},
"encoding": {"x": {"field": "x", "type": "quantitative"}, "y": {"field": "y", "type": "quantitative"}}
},
{
"data": {"values": [{"t": "a)", "x": 5548.5, "y": 0.15}]},
"mark": {"type": "text", "fontSize": 26, "color": "#000", "font": "Liberation Sans"},
"encoding": {"x": {"field": "x", "type": "quantitative"}, "y": {"field": "y", "type": "quantitative"}, "text": {"field": "t"}}
}
]
},
{
"width": 583, "height": 426,
"layer": [
{
"data": {"name": "b"},
"mark": {"type": "line", "strokeWidth": 3, "interpolate": "monotone"},
"encoding": {
  "x": {"field": "e", "type": "quantitative", "scale": {"domain": [-50, 80], "nice": false, "zero": false},
    "axis": {"title": "Energy (eV)", "values": [-50,-40,-30,-20,-10,0,10,20,30,40,50,60,70,80], "labelExpr": "datum.value % 20 === 0 ? '' + datum.value : ''", "tickSize": {"condition": {"test": "datum.value % 20 === 0", "value": 7}, "value": 4}, "labelFlush": false, "labelOverlap": false, "labelPadding": 12, "titlePadding": 1}},
  "y": {"field": "v", "type": "quantitative", "scale": {"domain": [-0.09, 4.17], "nice": false, "zero": false},
    "axis": {"title": "Normalized Absorption (Arb. Unit.)", "labels": false, "values": [0.06, 0.69, 1.32, 1.95, 2.58, 3.21, 3.84], "tickSize": -5, "titlePadding": 12}},
  "color": {"field": "S", "type": "nominal", "scale": {"domain": ["21 °C","512 °C","602 °C","650 °C"], "range": ["#FF0000","#800080","#FF8000","#800000"]}, "legend": null}
}
},
{
"data": {"name": "bnum"},
"mark": {"type": "text", "fontSize": 17, "font": "Liberation Sans"},
"encoding": {"x": {"field": "e", "type": "quantitative"}, "y": {"field": "v", "type": "quantitative"}, "text": {"field": "t"},
  "color": {"field": "c", "type": "nominal", "scale": {"domain": ["650","602","512","21"], "range": ["#8A1048","#FF8000","#800080","#FF0000"]}, "legend": null}}
},
{
"data": {"name": "blab"},
"mark": {"type": "text", "fontSize": 20, "align": "left", "font": "Liberation Sans"},
"encoding": {"x": {"field": "e", "type": "quantitative"}, "y": {"field": "v", "type": "quantitative"}, "text": {"field": "t"},
  "color": {"field": "c", "type": "nominal", "scale": {"domain": ["650","602","512","21"], "range": ["#8A1048","#FF8000","#800080","#FF0000"]}, "legend": null}}
},
{
"data": {"values": [{"t": "b)", "x": 71.3, "y": 0.26}]},
"mark": {"type": "text", "fontSize": 26, "color": "#000", "font": "Liberation Sans"},
"encoding": {"x": {"field": "x", "type": "quantitative"}, "y": {"field": "y", "type": "quantitative"}, "text": {"field": "t"}}
}
],
"resolve": {"scale": {"color": "independent"}}
}
]
}
